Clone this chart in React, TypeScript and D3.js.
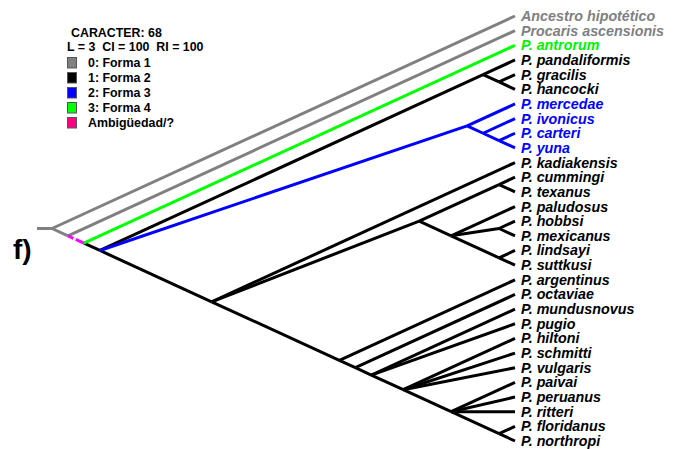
import React from "react";
import * as d3 from "d3";

const taxa = [
  "Ancestro hipotético",
  "Procaris ascensionis",
  "P. antrorum",
  "P. pandaliformis",
  "P. gracilis",
  "P. hancocki",
  "P. mercedae",
  "P. ivonicus",
  "P. carteri",
  "P. yuna",
  "P. kadiakensis",
  "P. cummingi",
  "P. texanus",
  "P. paludosus",
  "P. hobbsi",
  "P. mexicanus",
  "P. lindsayi",
  "P. suttkusi",
  "P. argentinus",
  "P. octaviae",
  "P. mundusnovus",
  "P. pugio",
  "P. hiltoni",
  "P. schmitti",
  "P. vulgaris",
  "P. paivai",
  "P. peruanus",
  "P. ritteri",
  "P. floridanus",
  "P. northropi",
];

// character state per taxon (0..3)
const taxonStates = [0, 0, 3, 1, 1, 1, 2, 2, 2, 2, 1, 1, 1, 1, 1, 1, 1, 1, 1, 1, 1, 1, 1, 1, 1, 1, 1, 1, 1, 1];

// topology as nested lists of taxon indices
const topology: any = [
  0,
  [
    1,
    [
      2,
      [
        [3, [4, 5]],
        [6, [7, [8, 9]]],
        [
          10,
          [[11, 12], [13, [14, 15], [16, 17]]],
          [18, [19, [20, 21, [22, 23, 24, [25, 26, 27, [28, 29]]]]]],
        ],
      ],
    ],
  ],
];

// explicit states for internal branches with mixed descendants ("first-last" leaf span)
const branchOverrides: [string, number][] = [
  ["0-29", 0],
  ["1-29", 0],
  ["2-29", 4],
  ["3-29", 1],
];

const legendTitle = "CARACTER: 68";
const legendStats = "L = 3  CI = 100  RI = 100";
const legendLabels = ["0: Forma 1", "1: Forma 2", "2: Forma 3", "3: Forma 4", "Ambigüedad/?"];
const stateColors = ["#808080", "#000000", "#0000ff", "#00ff00", "#ff00ff"];
const legendColors = ["#808080", "#000000", "#0000ff", "#00ff00", "#ff0080"];
const labelColors = ["#808080", "#000000", "#0000ff", "#00f000"];

const FONT = "'Liberation Sans', Arial, Helvetica, sans-serif";

export default function App() {
  const W = 683;
  const H = 449;
  const yScale = d3.scaleLinear().domain([0, taxa.length - 1]).range([16, 441]);
  const xScale = d3.scaleLinear().domain([0, taxa.length - 1]).range([515, 52]);

  const root = d3.hierarchy<any>(topology, (d) => (Array.isArray(d) ? d : null));
  const overrides = new Map(branchOverrides);

  const info = new Map<any, { x: number; y: number; state: number; lo: number; hi: number }>();
  root.eachAfter((n: any) => {
    if (!n.children) {
      const i = n.data as number;
      info.set(n, { x: xScale(0), y: yScale(i), state: taxonStates[i], lo: i, hi: i });
    } else {
      const ch = n.children.map((c: any) => info.get(c)!);
      const lo = d3.min(ch, (c: any) => c.lo)!;
      const hi = d3.max(ch, (c: any) => c.hi)!;
      const states = new Set(ch.map((c: any) => c.state));
      const key = `${lo}-${hi}`;
      const state = overrides.has(key) ? overrides.get(key)! : states.size === 1 ? ch[0].state : 1;
      info.set(n, { x: xScale(hi - lo), y: yScale((lo + hi) / 2), state, lo, hi });
    }
  });

  const links = root.links().map((l: any) => ({ s: info.get(l.source)!, t: info.get(l.target)! }));
  const rootInfo = info.get(root)!;
  const leaves = root.leaves().map((n: any) => ({ i: n.data as number, ...info.get(n)! }));

  const order = (st: number) => (st === 0 ? 0 : st === 1 ? 1 : 2);
  const sortedLinks = [...links].sort((a, b) => order(a.t.state) - order(b.t.state));

  return (
    <svg
      width={W}
      height={H}
      style={{ position: "absolute", left: 0, top: 0, background: "#fff" }}
      fontFamily={FONT}
    >
      <rect width={W} height={H} fill="#fff" />
      {/* stem */}
      <line
        x1={rootInfo.x - 15}
        x2={rootInfo.x}
        y1={rootInfo.y}
        y2={rootInfo.y}
        stroke={stateColors[rootInfo.state]}
        strokeWidth={3}
      />
      {sortedLinks.map((l, k) => (
        <line
          key={k}
          x1={l.s.x}
          y1={l.s.y}
          x2={l.t.x}
          y2={l.t.y}
          stroke={stateColors[l.t.state]}
          strokeWidth={3}
          strokeDasharray={l.t.state === 4 ? "6 2.5 40" : undefined}
        />
      ))}
      {leaves.map((lf) => (
        <text
          key={lf.i}
          x={lf.x + 6}
          y={lf.y + 5}
          fontSize={14.3}
          fontWeight="bold"
          fontStyle="italic"
          fill={labelColors[taxonStates[lf.i]]}
        >
          {taxa[lf.i]}
        </text>
      ))}
      {/* legend */}
      <g fontWeight="bold" fontSize={12.4} fill="#000">
        <text x={71} y={36.5}>{legendTitle}</text>
        <text x={67} y={50.5} style={{ whiteSpace: "pre" }}>{legendStats}</text>
        {legendLabels.map((lab, k) => (
          <g key={k}>
            <rect
              x={67.5}
              y={57.5 + k * 15}
              width={9}
              height={10.5}
              fill={legendColors[k]}
              stroke="#555"
              strokeWidth={1}
            />
            <text x={88} y={66.5 + k * 15}>{lab}</text>
          </g>
        ))}
      </g>
      <text x={13} y={259} fontSize={28} fontWeight="bold" fill="#000">
        f)
      </text>
    </svg>
  );
}
